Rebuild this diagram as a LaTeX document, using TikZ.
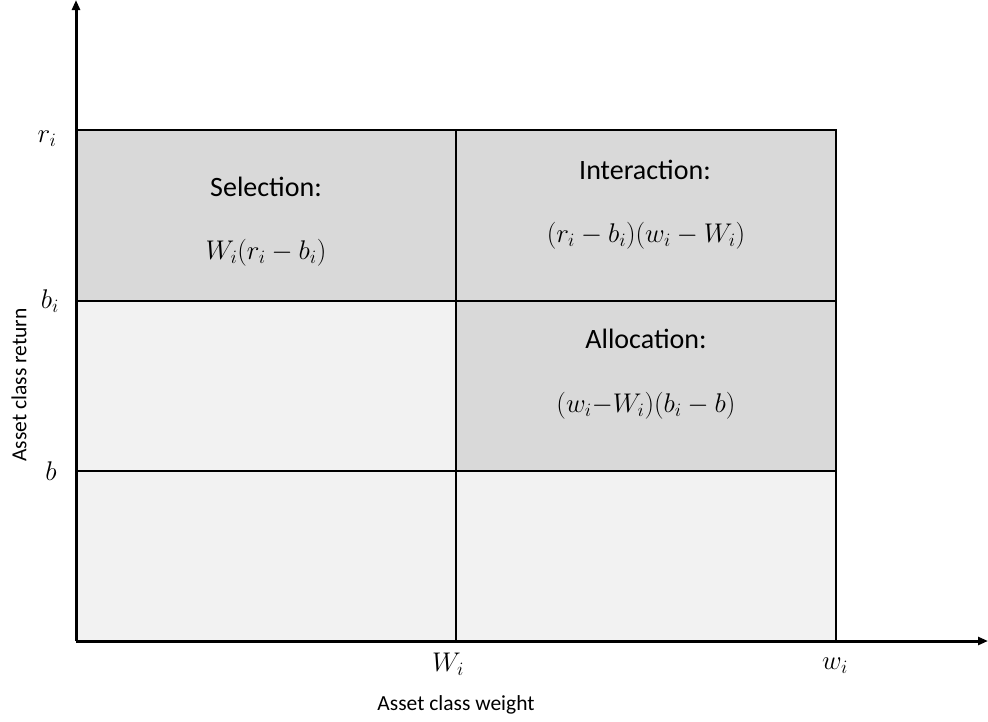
\RequirePackage{fix-cm}
\documentclass[tikz,border=0pt]{standalone}
\usepackage{fontspec}
\setmainfont{Carlito}
\usetikzlibrary{arrows.meta}
\begin{document}
\begin{tikzpicture}[x=1pt,y=-1pt,
  cellA/.style={fill=cellDark},
  cellB/.style={fill=cellLight},
  grid line/.style={line width=2.4pt,black},
  axis/.style={line width=3pt,black,-{Triangle[length=10pt,width=8pt]}},
  lbl/.style={font=\fontsize{28}{32}\selectfont,inner sep=0pt},
  mth/.style={font=\fontsize{27}{31}\selectfont,inner sep=0pt},
  axlbl/.style={font=\fontsize{21.5}{25}\selectfont,inner sep=0pt}]
\definecolor{cellDark}{HTML}{D9D9D9}
\definecolor{cellLight}{HTML}{F2F2F2}
\useasboundingbox (0,0) rectangle (988,721);
% cells
\fill[cellA] (76,130) rectangle (456,301);
\fill[cellA] (456,130) rectangle (836,301);
\fill[cellB] (76,301) rectangle (456,471);
\fill[cellA] (456,301) rectangle (836,471);
\fill[cellB] (76,471) rectangle (456,641);
\fill[cellB] (456,471) rectangle (836,641);
% grid
\draw[grid line] (76,130) -- (836,130) -- (836,641);
\draw[grid line] (76,301) -- (836,301);
\draw[grid line] (76,471) -- (836,471);
\draw[grid line] (456,130) -- (456,641);
% axes
\coordinate (O) at (76,641);
\coordinate (Ytop) at (76,0);
\coordinate (Xend) at (988,641);
\draw[axis] (O) -- (Ytop);
\draw[axis] (O) -- (Xend);
% cell texts
\node[lbl] (sel) at (266,187) {Selection:};
\node[mth] (self) at (266,253) {$W_i(r_i-b_i)$};
\node[lbl] (int) at (645,170) {Interaction:};
\node[mth] (intf) at (646,236) {$(r_i-b_i)(w_i-W_i)$};
\node[lbl] (all) at (646,339) {Allocation:};
\node[mth] (allf) at (646,406) {$(w_i{-}W_i)(b_i-b)$};
% axis tick labels
\node[mth] (ri) at (47,139) {$r_i$};
\node[mth] (bi) at (50,301) {$b_i$};
\node[mth] (b) at (51,471) {$b$};
\node[mth] (Wi) at (448,664) {$W_i$};
\node[mth] (wi) at (835,666) {$w_i$};
% axis titles
\node[axlbl] (xt) at (456,705) {Asset class weight};
\node[axlbl,rotate=90] (yt) at (19,385) {Asset class return};
\end{tikzpicture}
\end{document}
